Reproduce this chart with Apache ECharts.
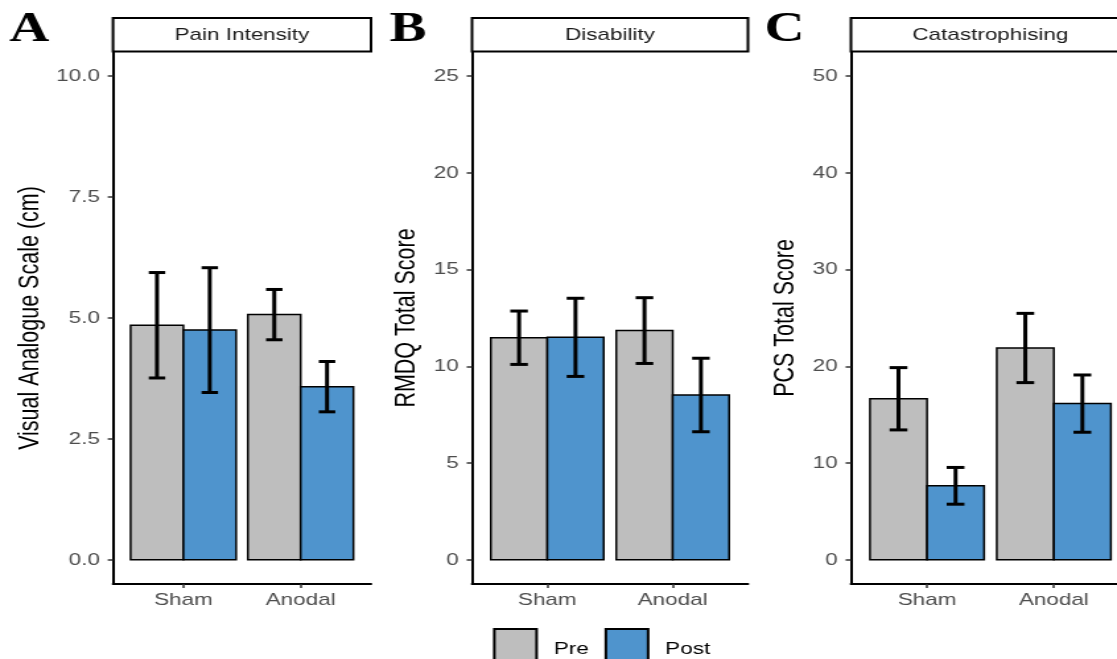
<!DOCTYPE html>
<html>
<head>
<meta charset="utf-8">
<script src="https://cdn.jsdelivr.net/npm/echarts@6/dist/echarts.min.js"></script>
<style>
  html, body { margin: 0; padding: 0; background: #fff; width: 1117px; height: 659px; overflow: hidden; }
  /* the figure is laid out narrow and stretched sideways */
  #chart { width: 846px; height: 659px; transform: scaleX(1.3203); transform-origin: 0 0; }
</style>
</head>
<body>
<div id="chart"></div>
<script>
// ---- data -------------------------------------------------------------
const categories = ['Sham', 'Anodal'];
const groups = ['Pre', 'Post'];

// Pain intensity (VAS, cm): mean and SE
const painPre = [4.85, 5.07];
const painPreSE = [1.09, 0.52];
const painPost = [4.75, 3.58];
const painPostSE = [1.29, 0.52];

// Disability (RMDQ total score)
const disPre = [11.48, 11.85];
const disPreSE = [1.38, 1.70];
const disPost = [11.50, 8.52];
const disPostSE = [2.02, 1.90];

// Catastrophising (PCS total score)
const catPre = [16.65, 21.90];
const catPreSE = [3.22, 3.58];
const catPost = [7.65, 16.15];
const catPostSE = [1.90, 2.96];

// axis ticks
const ticksPain = [0, 2.5, 5, 7.5, 10];
const ticksDis = [0, 5, 10, 15, 20, 25];
const ticksCat = [0, 10, 20, 30, 40, 50];

const panelTitles = ['Pain Intensity', 'Disability', 'Catastrophising'];
const panelLetters = ['A', 'B', 'C'];
const yTitles = ['Visual Analogue Scale (cm)', 'RMDQ Total Score', 'PCS Total Score'];

// ---- styling / layout -------------------------------------------------
const FONT = "'Liberation Sans', Arial, Helvetica, sans-serif";
const SERIF = "'Liberation Serif', 'Times New Roman', serif";
const COLORS = { Pre: '#BEBEBE', Post: '#4F94CD' };
const BAR_W = 0.45;   // width of one bar in category units
const CAP_W = 0.14;   // error bar cap width in category units
const GRID_TOP = 52;
const GRID_H = 532;
const gridBoxes = [
  { left: 85.6, width: 195.4 },
  { left: 357.5, width: 209.0 },
  { left: 644.5, width: 211.3 }
];
const nameGaps = [52, 38, 38];
const letterX = [7, 295, 579];

const panels = [
  { ticks: ticksPain, fmt: v => v.toFixed(1), pre: painPre, preSE: painPreSE, post: painPost, postSE: painPostSE },
  { ticks: ticksDis, fmt: v => String(v), pre: disPre, preSE: disPreSE, post: disPost, postSE: disPostSE },
  { ticks: ticksCat, fmt: v => String(v), pre: catPre, preSE: catPreSE, post: catPost, postSE: catPostSE }
];

function rows(means, ses) {
  return means.map((m, i) => [i + 1, m, ses[i]]);
}

function barRenderer(gIdx, color) {
  return function (params, api) {
    const cat = api.value(0);
    const v = api.value(1);
    const c = cat + (gIdx - 0.5) * BAR_W;
    const a = api.coord([c - BAR_W / 2, v]);
    const b = api.coord([c + BAR_W / 2, 0]);
    return {
      type: 'rect',
      shape: { x: a[0], y: a[1], width: b[0] - a[0], height: b[1] - a[1] },
      style: { fill: color, stroke: '#000', lineWidth: 1.5 }
    };
  };
}

function errRenderer(gIdx) {
  return function (params, api) {
    const cat = api.value(0);
    const v = api.value(1);
    const se = api.value(2);
    const c = cat + (gIdx - 0.5) * BAR_W;
    const top = api.coord([c, v + se]);
    const bot = api.coord([c, v - se]);
    const l = api.coord([c - CAP_W / 2, v])[0];
    const r = api.coord([c + CAP_W / 2, v])[0];
    const st = { stroke: '#000', lineWidth: 3, fill: null };
    return {
      type: 'group',
      children: [
        { type: 'line', shape: { x1: top[0], y1: top[1], x2: bot[0], y2: bot[1] }, style: st },
        { type: 'line', shape: { x1: l, y1: top[1], x2: r, y2: top[1] }, style: st },
        { type: 'line', shape: { x1: l, y1: bot[1], x2: r, y2: bot[1] }, style: st }
      ]
    };
  };
}

const grid = [], xAxis = [], yAxis = [], series = [], graphic = [];

panels.forEach((p, i) => {
  const box = gridBoxes[i];
  grid.push({ left: box.left, width: box.width, top: GRID_TOP, height: GRID_H,
              containLabel: false, outerBoundsMode: 'none' });

  xAxis.push({
    type: 'value', gridIndex: i, min: 0.4, max: 2.6,
    axisLine: { show: true, onZero: false, lineStyle: { color: '#000', width: 2 } },
    axisTick: { show: true, customValues: [1, 2], length: 4, lineStyle: { color: '#333', width: 1.5 } },
    axisLabel: { show: true, customValues: [1, 2], formatter: v => categories[Math.round(v) - 1],
                 margin: 8, fontSize: 17, fontFamily: FONT, color: '#4D4D4D' },
    splitLine: { show: false }
  });

  const t = p.ticks;
  const span = t[t.length - 1] - t[0];
  yAxis.push({
    type: 'value', gridIndex: i, min: t[0] - 0.05 * span, max: t[t.length - 1] + 0.05 * span,
    name: yTitles[i], nameLocation: 'middle', nameRotate: 90, nameGap: nameGaps[i],
    nameTextStyle: { fontSize: 21.5, fontFamily: FONT, color: '#000' },
    axisLine: { show: true, onZero: false, lineStyle: { color: '#000', width: 2 } },
    axisTick: { show: true, customValues: t, length: 4, lineStyle: { color: '#333', width: 1.5 } },
    axisLabel: { show: true, customValues: t, formatter: p.fmt, margin: 10,
                 fontSize: 17, fontFamily: FONT, color: '#4D4D4D' },
    splitLine: { show: false }
  });

  [[p.pre, p.preSE], [p.post, p.postSE]].forEach(([m, s], g) => {
    series.push({
      type: 'custom', name: groups[g], xAxisIndex: i, yAxisIndex: i,
      itemStyle: { color: COLORS[groups[g]], borderColor: '#000', borderWidth: 1.5 },
      encode: { x: 0, y: 1 }, data: rows(m, s), renderItem: barRenderer(g, COLORS[groups[g]]),
      z: 2, silent: true
    });
  });
  [[p.pre, p.preSE], [p.post, p.postSE]].forEach(([m, s], g) => {
    series.push({
      type: 'custom', name: groups[g] + ' SE', xAxisIndex: i, yAxisIndex: i,
      encode: { x: 0, y: 1 }, data: rows(m, s), renderItem: errRenderer(g),
      z: 3, silent: true
    });
  });

  // facet strip
  graphic.push({
    type: 'rect', z: 10,
    shape: { x: box.left, y: 18, width: box.width, height: 33.5 },
    style: { fill: '#fff', stroke: '#000', lineWidth: 2 }
  });
  graphic.push({
    type: 'text', z: 11, x: box.left + box.width / 2, y: 35,
    style: { text: panelTitles[i], fontSize: 17, fontFamily: FONT, fill: '#1A1A1A',
             align: 'center', verticalAlign: 'middle' }
  });
  // panel letter
  graphic.push({
    type: 'text', z: 11, x: letterX[i], y: 30,
    style: { text: panelLetters[i], fontSize: 42, fontWeight: 'bold', fontFamily: SERIF, fill: '#000',
             align: 'left', verticalAlign: 'middle' }
  });
});

const chart = echarts.init(document.getElementById('chart'), null, { renderer: 'canvas' });
chart.setOption({
  animation: false,
  backgroundColor: '#fff',
  grid, xAxis, yAxis, series, graphic,
  legend: {
    left: 373.4, top: 628, orient: 'horizontal', padding: 0,
    itemWidth: 32, itemHeight: 40, itemGap: 12, selectedMode: false,
    textStyle: { fontSize: 17, fontFamily: FONT, color: '#000', padding: [0, 0, 0, 8] },
    data: groups.map(g => ({ name: g, icon: 'rect',
      itemStyle: { color: COLORS[g], borderColor: '#000', borderWidth: 2 } }))
  }
});
</script>
</body>
</html>
